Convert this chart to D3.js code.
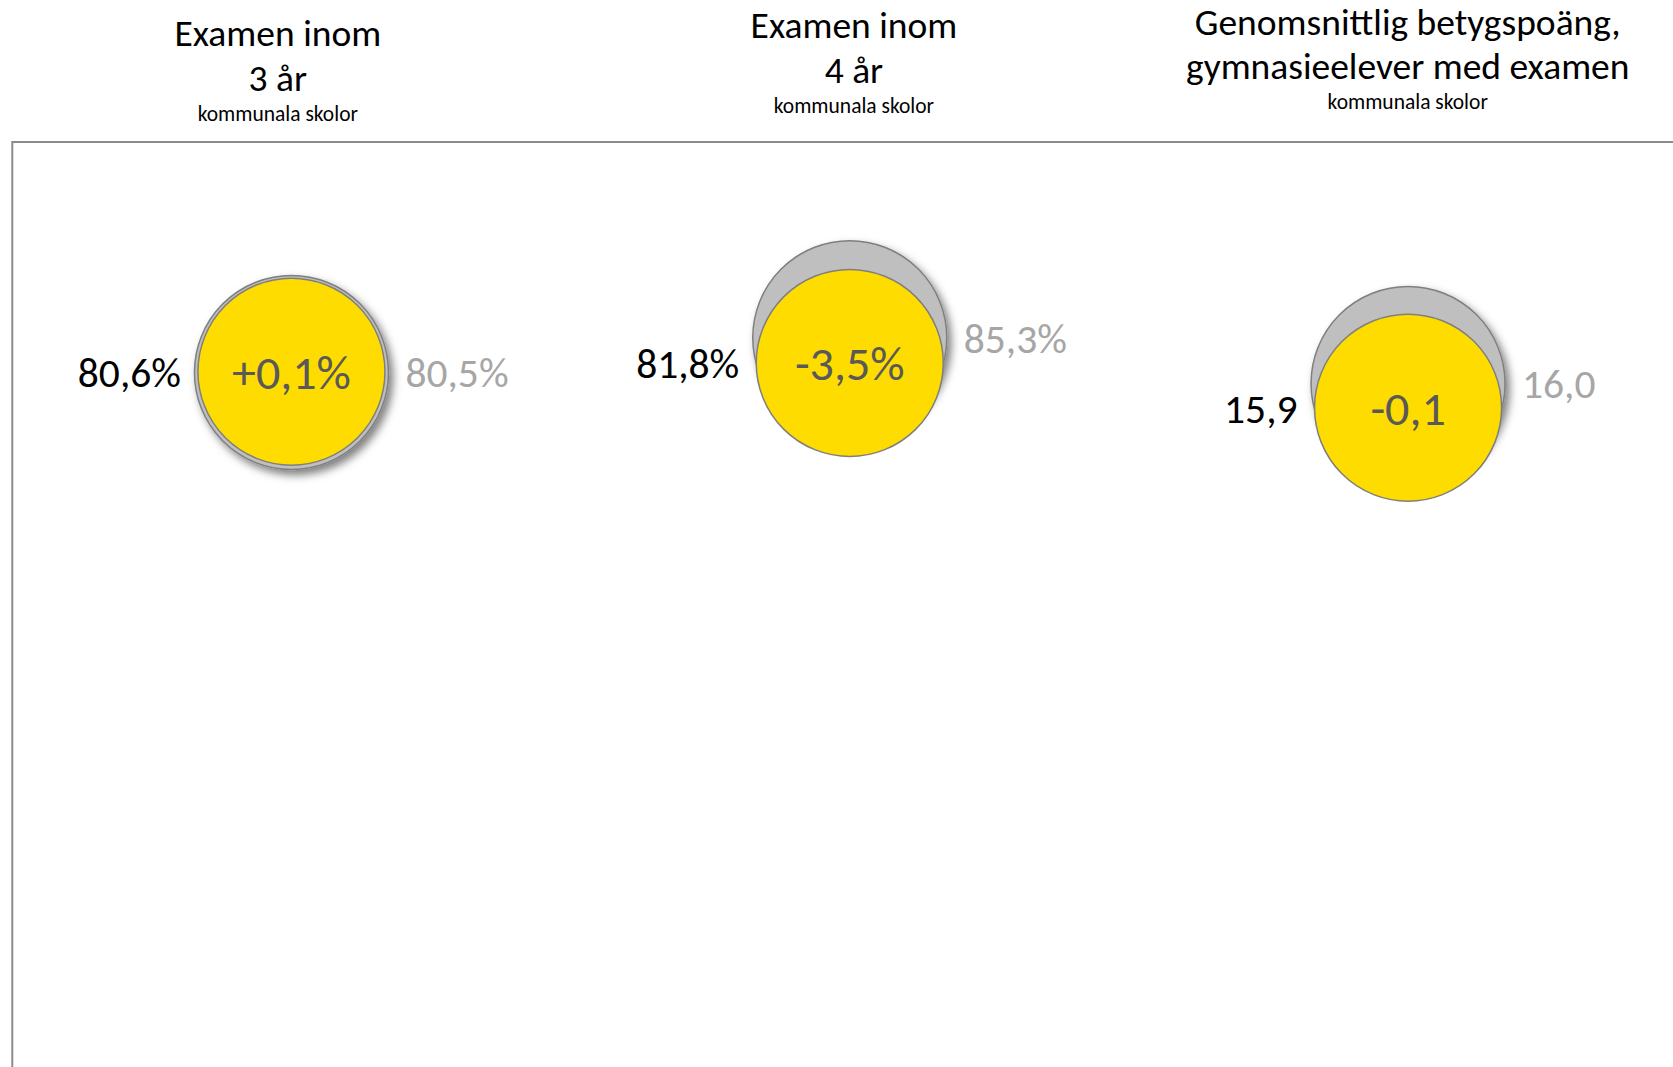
<!DOCTYPE html>
<html>
<head>
<meta charset="utf-8">
<script src="https://cdn.jsdelivr.net/npm/d3@7"></script>
<style>
  html, body { margin: 0; padding: 0; background: #ffffff; }
  svg { display: block; }
  text { font-family: Calibri, Carlito, Lato, sans-serif; }
</style>
</head>
<body>
<div id="chart"></div>
<script>
// panels, left to right
var panels = ["exam3", "exam4", "merit"];
var titleLine1 = ["Examen inom", "Examen inom", "Genomsnittlig betygspoäng,"];
var titleLine2 = ["3 år", "4 år", "gymnasieelever med examen"];
var subtitles = ["kommunala skolor", "kommunala skolor", "kommunala skolor"];
var units = ["%", "%", ""];

// this year (yellow) and previous year (grey)
var currentValues = [80.6, 81.8, 15.9];
var previousValues = [80.5, 85.3, 16.0];

var width = 1673, height = 1067;
var frame = {left: 12.3, top: 142};
var panelWidth = 558.3;
var rPrev = 97, rCurr = 93.5;
var titleShift = [-13.6, 4.2, -0.3];
var titleBase = [[46, 91, 121], [38, 82.5, 113], [35, 79, 109]];
var titleSize = 37.5, subSize = 21.5;
var sideSize = 41.5, midSize = 48;

var locale = d3.formatLocale({decimal: ",", thousands: " ", grouping: [3], currency: ["", " kr"], minus: "-"});
var fmt = locale.format(".1f");
var fmtSigned = locale.format("+.1f");

var svg = d3.select("#chart").append("svg")
    .attr("width", width)
    .attr("height", height);

var defs = svg.append("defs");
var shadow = defs.append("filter")
    .attr("id", "shadow")
    .attr("x", "-20%").attr("y", "-20%")
    .attr("width", "150%").attr("height", "150%");
shadow.append("feDropShadow")
    .attr("dx", 4).attr("dy", 5)
    .attr("stdDeviation", 4)
    .attr("flood-color", "#000")
    .attr("flood-opacity", 0.5);

// frame: only left and top edges are visible
svg.append("path")
    .attr("d", "M" + frame.left + "," + (height + 5) + "V" + frame.top + "H" + (width + 5))
    .attr("fill", "none")
    .attr("stroke", "#8c8c8c")
    .attr("stroke-width", 2);

var x = d3.scaleBand()
    .domain(panels)
    .range([frame.left, frame.left + panels.length * panelWidth]);

// percent panels share one axis, the merit panel has its own
var yPct = d3.scaleLinear().domain([0, 100]).range([954.4, 231.4]);
var yMerit = d3.scaleLinear().domain([15, 17]).range([626.4, 140.4]);
var yScales = [yPct, yPct, yMerit];

var cx = function(i) { return x(panels[i]) + x.bandwidth() / 2; };

var rows = panels.map(function(p, i) {
    return {
        key: p, i: i,
        cur: currentValues[i], prev: previousValues[i],
        yCur: yScales[i](currentValues[i]),
        yPrev: yScales[i](previousValues[i])
    };
});

// titles
var titles = svg.append("g").attr("class", "titles");
rows.forEach(function(d) {
    var tx = cx(d.i) + titleShift[d.i];
    titles.append("text")
        .attr("x", tx).attr("y", titleBase[d.i][0])
        .attr("text-anchor", "middle")
        .attr("font-size", titleSize).attr("fill", "#000")
        .text(titleLine1[d.i]);
    titles.append("text")
        .attr("x", tx).attr("y", titleBase[d.i][1])
        .attr("text-anchor", "middle")
        .attr("font-size", titleSize).attr("fill", "#000")
        .text(titleLine2[d.i]);
    titles.append("text")
        .attr("x", tx).attr("y", titleBase[d.i][2])
        .attr("text-anchor", "middle")
        .attr("font-size", subSize).attr("fill", "#000")
        .text(subtitles[d.i]);
});

var g = svg.append("g").attr("class", "bubbles");

// previous year bubble
g.selectAll("circle.prev")
    .data(rows)
    .enter()
    .append("circle")
        .attr("class", "prev")
        .attr("cx", function(d) { return cx(d.i); })
        .attr("cy", function(d) { return d.yPrev; })
        .attr("r", rPrev)
        .attr("fill", "#bfbfbf")
        .attr("stroke", "#7f7f7f")
        .attr("stroke-width", 1.5)
        .attr("filter", "url(#shadow)");

// this year bubble
g.selectAll("circle.cur")
    .data(rows)
    .enter()
    .append("circle")
        .attr("class", "cur")
        .attr("cx", function(d) { return cx(d.i); })
        .attr("cy", function(d) { return d.yCur; })
        .attr("r", rCurr)
        .attr("fill", "#ffdc00")
        .attr("stroke", "#7f7f7f")
        .attr("stroke-width", 1.5);

// change in the middle
g.selectAll("text.change")
    .data(rows)
    .enter()
    .append("text")
        .attr("class", "change")
        .attr("x", function(d) { return cx(d.i); })
        .attr("y", function(d) { return d.yCur + midSize * 0.36; })
        .attr("text-anchor", "middle")
        .attr("font-size", midSize)
        .attr("fill", "#595959")
        .text(function(d) { return fmtSigned(d.cur - d.prev) + units[d.i]; });

// current value on the left
g.selectAll("text.cur")
    .data(rows)
    .enter()
    .append("text")
        .attr("class", "cur")
        .attr("x", function(d) { return cx(d.i) - rCurr - 17; })
        .attr("y", function(d) { return d.yCur + sideSize * 0.36; })
        .attr("text-anchor", "end")
        .attr("font-size", sideSize)
        .attr("fill", "#000")
        .text(function(d) { return fmt(d.cur) + units[d.i]; });

// previous value on the right
g.selectAll("text.prev")
    .data(rows)
    .enter()
    .append("text")
        .attr("class", "prev")
        .attr("x", function(d) { return cx(d.i) + rPrev + 17; })
        .attr("y", function(d) { return d.yPrev + sideSize * 0.36; })
        .attr("text-anchor", "start")
        .attr("font-size", sideSize)
        .attr("fill", "#a6a6a6")
        .text(function(d) { return fmt(d.prev) + units[d.i]; });
</script>
</body>
</html>
